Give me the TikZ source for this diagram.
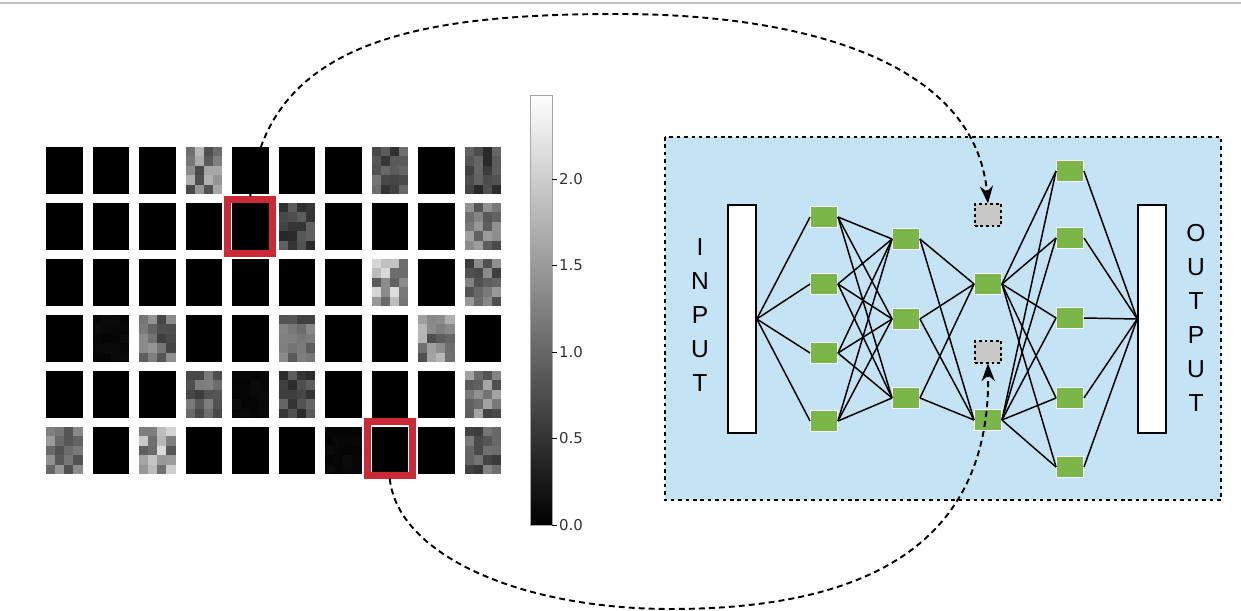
\documentclass[tikz,border=0pt]{standalone}
\usepackage{fontspec}
\setmainfont{Liberation Sans}
\newfontfamily\tickfont{DejaVu Sans}
\usetikzlibrary{arrows.meta}

\definecolor{unitgreen}{RGB}{122,182,72}
\definecolor{netblue}{RGB}{196,228,245}
\definecolor{dropgray}{RGB}{200,200,200}
\definecolor{pickred}{RGB}{204,41,54}

\begin{document}
\begin{tikzpicture}[
    x=0.02cm, y=-0.02cm,
    unit/.style={
        rectangle, draw=white, line width=0.8pt, fill=unitgreen,
        minimum width=0.53cm, minimum height=0.43cm, inner sep=0pt
    },
    drop/.style={
        rectangle, draw=black, line width=0.9pt, fill=dropgray,
        dash pattern=on 1.6pt off 1.6pt,
        minimum width=0.53cm, minimum height=0.43cm, inner sep=0pt
    },
    iobar/.style={
        rectangle, draw, line width=0.9pt, fill=white,
        minimum width=0.56cm, minimum height=4.56cm, inner sep=0pt
    },
    iolbl/.style={align=center, inner sep=0pt, font=\fontsize{14}{19.3}\selectfont},
    pick/.style={
        rectangle, draw=pickred, line width=0.14cm,
        minimum width=0.9cm, minimum height=1.07cm, inner sep=0pt
    },
    link/.style={line width=0.85pt},
    flow/.style={line width=1.1pt, dash pattern=on 3.4pt off 2.3pt,
        -{Stealth[length=10pt, width=7.5pt]}},
    tick/.style={font=\tickfont\fontsize{8.5}{10}\selectfont, text=black!80,
        anchor=west, inner sep=1pt}
]
\useasboundingbox (0,0) rectangle (1241,611);
\draw[gray!50, line width=0.8pt] (0,3) -- (1241,3);

% filter tiles
\foreach \c in {1,...,10}
  \foreach \r in {1,...,6}
    \fill ({46+46.5*(\c-1)},{147+56*(\r-1)}) rectangle ++(36.5,47);
\pgfmathsetseed{12}
\foreach \c/\r/\b in {4/1/50, 8/1/32, 10/1/28, 6/2/28, 10/2/45, 8/3/60, 10/3/42,
                      2/4/3, 3/4/42, 6/4/38, 9/4/50, 4/5/36, 5/5/3, 6/5/28, 10/5/45,
                      1/6/42, 3/6/60, 7/6/3, 10/6/38}{
  \foreach \i in {0,...,3}
    \foreach \j in {0,...,4}{
      \pgfmathsetmacro\lv{100-\b-(rnd-0.5)*\b*0.9}
      \fill[black!\lv] ({46+46.5*(\c-1)+9.125*\i},{147+56*(\r-1)+9.4*\j}) rectangle ++(9.125,9.4);
    }
}
\node[pick] (pickA) at (250.25,226.5) {};
\node[pick] (pickB) at (389.75,448.5) {};

% colour bar
\shade[top color=white, bottom color=black] (530,95) rectangle (552,525);
\draw[gray!70, line width=0.5pt] (530,95) rectangle (552,525);
\foreach \v [count=\k] in {0.0,0.5,1.0,1.5,2.0}{
  \draw[line width=0.5pt] (552,{525-173*\v}) -- (557,{525-173*\v});
  \node[tick] (tick\k) at (557,{525-173*\v}) {\v};
}

% network
\draw[fill=netblue, line width=1.1pt, dash pattern=on 2pt off 2.2pt] (665,137) rectangle (1221,500);

\node[iobar] (inp)  at (742,319)  {};
\node[iobar] (outp) at (1152,319) {};
\node[iolbl] (inlbl)  at (700,315)  {I\\N\\P\\U\\T};
\node[iolbl] (outlbl) at (1196,318) {O\\U\\T\\P\\U\\T};

\foreach \y [count=\k] in {217,284,353,421}
  \node[unit] (a\k) at (824,\y) {};
\foreach \y [count=\k] in {239,319,398}
  \node[unit] (b\k) at (906,\y) {};
\node[drop] (dropA) at (988,215) {};
\node[unit] (c1)    at (988,284) {};
\node[drop] (dropB) at (988,352) {};
\node[unit] (c2)    at (988,420) {};
\foreach \y [count=\k] in {171,238,318,398,467}
  \node[unit] (d\k) at (1070,\y) {};

\foreach \i in {1,...,4}{
  \draw[link] (inp.east) -- (a\i.west);
  \foreach \j in {1,...,3}
    \draw[link] (a\i.east) -- (b\j.west);
}
\foreach \j in {1,...,3}
  \foreach \m in {1,2}
    \draw[link] (b\j.east) -- (c\m.west);
\foreach \k in {1,...,5}{
  \foreach \m in {1,2}
    \draw[link] (c\m.east) -- (d\k.west);
  \draw[link] (d\k.east) -- (outp.west);
}

% dropped filters
\draw[flow] (pickA.north) .. controls (265,40) and (420,14) .. (618,14)
    .. controls (800,14) and (975,60) .. (dropA.north);
\draw[flow] (pickB.south) .. controls (398,555) and (520,609) .. (671,609)
    .. controls (900,609) and (990,520) .. (dropB.south);

\end{tikzpicture}
\end{document}
